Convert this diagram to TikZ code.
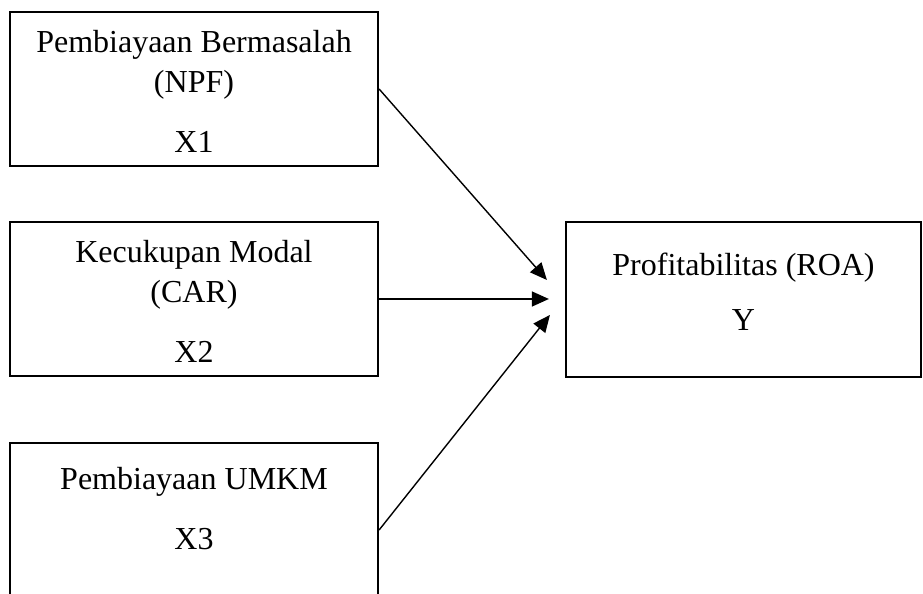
\documentclass[tikz,border=0pt]{standalone}
\usepackage{fontspec}
\setmainfont{Liberation Serif}
\usetikzlibrary{arrows.meta,positioning}
\tikzset{
    %Define standard arrow tip
    >={Triangle[length=8.5pt,width=7.5pt]},
    %Define style for boxes
    varbox/.style={
           rectangle,
           draw=black, line width=1.1pt,
           minimum width=184pt,
           minimum height=77pt,
           align=center,
           font=\fontsize{16}{20}\selectfont},
    % Define arrow style
    arr/.style={
           ->,
           line width=0.7pt}
}

\begin{document}
\begin{tikzpicture}[x=1pt,y=1pt]
    \useasboundingbox (0,0) rectangle (461.5,297);
    \clip (0,0) rectangle (461.5,297);

    % INDEPENDENT VARIABLES
    \node[varbox] at (97,252.5) (npf) {\rule{0pt}{14pt}Pembiayaan Bermasalah\\(NPF)\\[10pt]X1};
    \node[varbox] at (97,147.5) (car) {\rule{0pt}{14pt}Kecukupan Modal\\(CAR)\\[10pt]X2};
    \node[varbox, minimum height=87pt] at (97,32) (umkm) {Pembiayaan UMKM\\[10pt]X3\rule[-21.5pt]{0pt}{21.5pt}};

    % DEPENDENT VARIABLE
    \node[varbox, minimum width=177.5pt, minimum height=77.5pt] at (371.75,147.25) (roa) {Profitabilitas (ROA)\\[7.5pt]Y\rule[-8pt]{0pt}{8pt}};

    % arrow tips in front of the Y box
    \coordinate (tipA) at ([xshift=-9pt,yshift=9.75pt]roa.west);
    \coordinate (tipB) at ([xshift=-8pt]roa.west |- car.east);
    \coordinate (tipC) at ([xshift=-7.5pt,yshift=-7.75pt]roa.west);

    \draw[arr] (npf.east) -- (tipA);
    \draw[arr] (car.east) -- (tipB);
    \draw[arr] (umkm.east) -- (tipC);
\end{tikzpicture}
\end{document}
